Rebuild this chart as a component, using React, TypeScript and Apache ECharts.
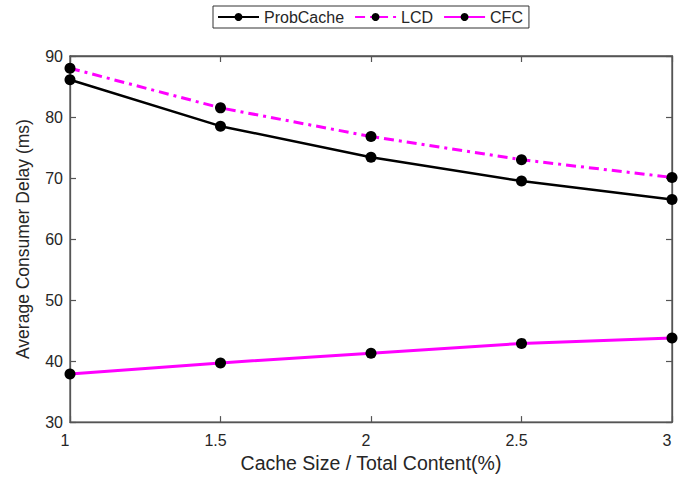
import React, { useEffect, useRef } from "react";
import * as echarts from "echarts";

const xValues = [1, 1.5, 2, 2.5, 3];
const probCache = [86.1, 78.5, 73.4, 69.5, 66.5];
const lcd = [88.0, 81.5, 76.8, 73.0, 70.1];
const cfc = [37.9, 39.7, 41.3, 42.9, 43.8];

const font = "'Liberation Sans', Arial, Helvetica, sans-serif";
const textColor = "#262626";

export default function App() {
  const ref = useRef<HTMLDivElement>(null);
  useEffect(() => {
    document.body.style.margin = "0";
    if (!ref.current) return;
    const chart = echarts.init(ref.current, undefined, { renderer: "svg" });
    const pair = (ys: number[]) => xValues.map((x, i) => [x, ys[i]]);
    const axisCommon = {
      axisLine: { show: true, lineStyle: { color: "#555", width: 1.3 } },
      axisTick: { show: true, inside: true, length: 6, lineStyle: { color: "#555", width: 1.2 } },
      splitLine: { show: false },
    };
    chart.setOption({
      animation: false,
      backgroundColor: "#fff",
      textStyle: { fontFamily: font },
      legend: {
        top: 6,
        left: 213,
        itemWidth: 41,
        itemHeight: 10,
        itemGap: 10,
        padding: [3, 6, 3, 4],
        borderColor: "#333",
        borderWidth: 1,
        textStyle: { fontFamily: font, fontSize: 16, color: textColor },
        data: ["ProbCache", "LCD", "CFC"],
      },
      grid: { left: 70, right: 11, top: 56, bottom: 55, show: true, borderColor: "#555", borderWidth: 1.3 },
      xAxis: [
        {
          type: "value",
          min: 1,
          max: 3,
          interval: 0.5,
          ...axisCommon,
          axisLabel: { fontFamily: font, fontSize: 16, color: textColor, margin: 10, padding: [0, 10, 0, 0] },
          name: "Cache Size / Total Content(%)",
          nameLocation: "middle",
          nameGap: 30,
          nameTextStyle: { fontFamily: font, fontSize: 19.5, color: textColor },
        },
        {
          type: "value",
          position: "top",
          min: 1,
          max: 3,
          interval: 0.5,
          ...axisCommon,
          axisLabel: { show: false },
        },
      ],
      yAxis: [
        {
          type: "value",
          min: 30,
          max: 90,
          interval: 10,
          ...axisCommon,
          axisLabel: { fontFamily: font, fontSize: 16, color: textColor, margin: 7 },
          name: "Average Consumer Delay (ms)",
          nameLocation: "middle",
          nameGap: 38,
          nameTextStyle: { fontFamily: font, fontSize: 17.5, color: textColor },
        },
        {
          type: "value",
          position: "right",
          min: 30,
          max: 90,
          interval: 10,
          ...axisCommon,
          axisLabel: { show: false },
        },
      ],
      series: [
        {
          name: "ProbCache",
          type: "line",
          data: pair(probCache),
          symbol: "circle",
          symbolSize: 11,
          itemStyle: { color: "#000" },
          lineStyle: { color: "#000", width: 2.5 },
          z: 3,
        },
        {
          name: "LCD",
          type: "line",
          data: pair(lcd),
          symbol: "circle",
          symbolSize: 11,
          itemStyle: { color: "#000" },
          lineStyle: { color: "#ff00ff", width: 3, type: [10, 5, 3, 5] },
          z: 4,
        },
        {
          name: "CFC",
          type: "line",
          data: pair(cfc),
          symbol: "circle",
          symbolSize: 11,
          itemStyle: { color: "#000" },
          lineStyle: { color: "#ff00ff", width: 3 },
          z: 5,
        },
      ],
    });
    return () => chart.dispose();
  }, []);
  return <div ref={ref} style={{ width: 683, height: 478 }} />;
}
